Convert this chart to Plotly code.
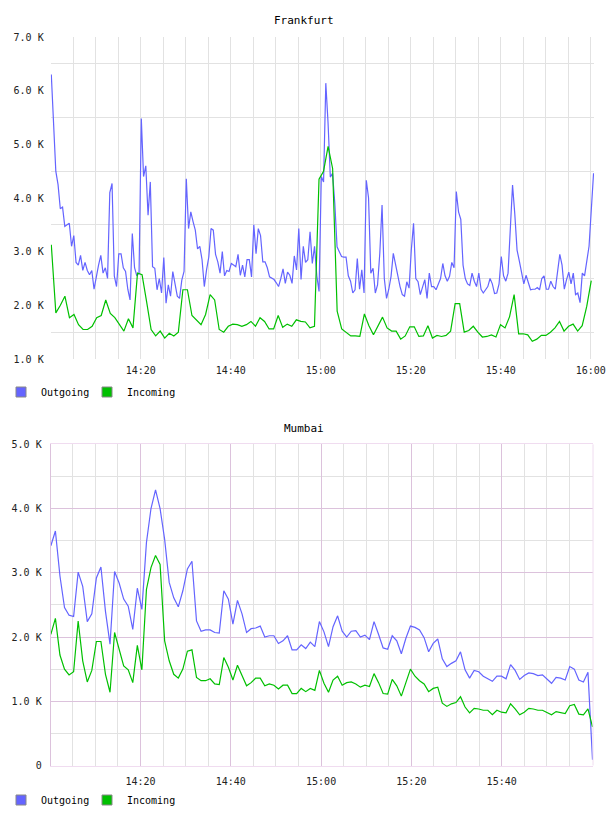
import plotly.graph_objects as go
import pandas as pd

DAY = "2024-01-01 "

# ---------------- data (values in thousands) ----------------
fra_out_start = "14:00:08"
fra_out_step_s = 30
fra_outgoing_k = [
    6.3, 5.5, 4.5, 4.25, 3.8, 3.83, 3.47, 3.5, 3.53, 3.1,
    3.3, 2.8, 2.75, 2.93, 2.65, 2.8, 2.65, 2.57, 2.65, 2.3,
    2.55, 2.75, 2.93, 2.6, 2.7, 2.5, 4.1, 4.27, 2.55, 2.35,
    2.96, 2.96, 2.7, 2.63, 2.3, 2.1, 3.34, 2.7, 2.55, 2.6,
    5.48, 4.4, 4.6, 3.68, 4.3, 2.72, 2.69, 2.29, 2.5, 2.23,
    2.89, 2.04, 2.38, 2.17, 2.63, 2.4, 2.17, 2.13, 2.47, 2.63,
    4.36, 3.43, 3.74, 3.56, 3.4, 3.05, 3.1, 2.85, 2.35, 2.66,
    2.9, 3.43, 3.4, 2.95, 2.81, 2.6, 3.0, 2.55, 2.65, 2.63,
    2.78, 2.75, 2.72, 2.95, 2.56, 2.75, 2.53, 2.85, 2.85, 2.53,
    3.5, 2.96, 3.43, 3.3, 2.81, 2.81, 2.7, 2.53, 2.5, 2.48,
    2.42, 2.35, 2.5, 2.68, 2.41, 2.62, 2.56, 2.41, 2.92, 2.66,
    3.43, 2.48, 3.1, 2.8, 2.85, 3.37, 2.78, 3.1, 2.55, 2.26,
    4.4, 4.3, 6.14, 5.4, 4.39, 4.46, 3.9, 3.09, 3.0, 2.91,
    2.9, 2.9, 2.55, 2.45, 2.23, 2.29, 2.87, 2.3, 2.66, 2.23,
    4.33, 4.0, 2.6, 2.69, 2.23, 2.38, 2.97, 3.87, 2.5, 2.13,
    2.3, 2.54, 2.97, 2.75, 2.54, 2.35, 2.2, 2.17, 2.44, 2.32,
    3.03, 3.53, 2.5, 2.44, 2.2, 2.35, 2.48, 2.13, 2.6, 2.35,
    2.35, 2.29, 2.38, 2.5, 2.78, 2.55, 2.45, 2.54, 2.8, 2.7,
    4.12, 3.74, 3.6, 2.75, 2.5, 2.4, 2.37, 2.6, 2.45, 2.35,
    2.6, 2.3, 2.23, 2.3, 2.35, 2.5, 2.4, 2.22, 2.23, 2.4,
    2.91, 2.55, 2.45, 2.6, 3.34, 4.24, 3.7, 3.03, 2.83, 2.58,
    2.4, 2.56, 2.4, 2.29, 2.3, 2.3, 2.33, 2.29, 2.5, 2.55,
    2.3, 2.3, 2.45, 2.35, 2.3, 2.62, 2.95, 2.75, 2.3, 2.48,
    2.62, 2.4, 2.6, 2.2, 2.23, 2.05, 2.6, 2.55, 2.85, 3.1,
    3.78, 4.46,
]

fra_in_start = "14:00:08"
fra_in_step_s = 60.5
fra_incoming_k = [
    3.13, 1.86, 2.0, 2.17, 1.77, 1.83, 1.64, 1.55, 1.55, 1.61,
    1.77, 1.81, 2.1, 1.85, 1.77, 1.64, 1.52, 1.75, 1.58, 2.6,
    2.57, 2.07, 1.55, 1.43, 1.52, 1.39, 1.48, 1.43, 1.5, 2.29,
    2.29, 1.81, 1.73, 1.64, 1.83, 2.2, 2.1, 1.55, 1.5, 1.61,
    1.65, 1.64, 1.61, 1.64, 1.7, 1.61, 1.77, 1.7, 1.56, 1.56,
    1.81, 1.59, 1.65, 1.61, 1.73, 1.7, 1.69, 1.58, 1.61, 4.35,
    4.5, 4.96, 4.55, 1.89, 1.56, 1.5, 1.43, 1.43, 1.42, 1.84,
    1.62, 1.45, 1.62, 1.78, 1.58, 1.52, 1.52, 1.37, 1.43, 1.6,
    1.6, 1.42, 1.43, 1.62, 1.39, 1.44, 1.42, 1.44, 1.52, 2.03,
    2.03, 1.5, 1.53, 1.61, 1.5, 1.41, 1.42, 1.45, 1.41, 1.64,
    1.58, 1.79, 2.2, 1.47, 1.47, 1.45, 1.33, 1.37, 1.44, 1.44,
    1.5, 1.58, 1.7, 1.52, 1.61, 1.65, 1.52, 1.62, 1.98, 2.46,
]

mum_start = "14:00:08"
mum_step_s = 60.5
mum_outgoing_k = [
    3.42, 3.65, 2.95, 2.46, 2.34, 2.32, 3.01, 2.79, 2.24, 2.36,
    2.92, 3.09, 2.4, 1.89, 3.02, 2.84, 2.59, 2.48, 2.12, 2.76,
    2.43, 3.47, 4.0, 4.29, 4.0, 3.52, 2.85, 2.61, 2.47, 2.72,
    3.06, 3.18, 2.25, 2.09, 2.11, 2.11, 2.07, 2.06, 2.72, 2.59,
    2.2, 2.57, 2.36, 2.07, 2.13, 2.14, 2.17, 2.0, 2.02, 2.02,
    1.9, 1.94, 2.02, 1.8, 1.8, 1.88, 1.82, 1.92, 1.85, 2.24,
    2.08, 1.85, 2.16, 2.33, 2.09, 2.0, 2.09, 2.1, 2.0, 2.03,
    1.96, 2.24, 2.04, 1.83, 1.81, 2.02, 1.94, 1.74, 1.98, 2.17,
    2.15, 2.11, 1.99, 1.77, 1.9, 1.97, 1.66, 1.54, 1.59, 1.63,
    1.77, 1.49, 1.36, 1.48, 1.46, 1.39, 1.35, 1.31, 1.39, 1.39,
    1.35, 1.57, 1.48, 1.34, 1.4, 1.44, 1.43, 1.4, 1.41, 1.34,
    1.28, 1.37, 1.36, 1.33, 1.54, 1.5, 1.33, 1.3, 1.45, 0.09,
]
mum_incoming_k = [
    2.04, 2.29, 1.72, 1.5, 1.41, 1.46, 2.25, 1.63, 1.3, 1.48,
    1.93, 1.93, 1.42, 1.14, 2.07, 1.79, 1.55, 1.49, 1.29, 1.87,
    1.49, 2.74, 3.08, 3.27, 3.13, 1.94, 1.63, 1.42, 1.36, 1.5,
    1.78, 1.8, 1.37, 1.32, 1.32, 1.35, 1.27, 1.26, 1.68, 1.53,
    1.33, 1.56, 1.39, 1.24, 1.29, 1.36, 1.36, 1.24, 1.27, 1.25,
    1.19, 1.25, 1.25, 1.12, 1.12, 1.2, 1.15, 1.2, 1.17, 1.48,
    1.28, 1.14, 1.33, 1.39, 1.25, 1.29, 1.3, 1.27, 1.22, 1.25,
    1.23, 1.43, 1.29, 1.12, 1.11, 1.34, 1.24, 1.08, 1.29, 1.5,
    1.39, 1.32, 1.27, 1.15, 1.2, 1.22, 0.97, 0.92, 0.96, 0.98,
    1.07, 0.91, 0.82, 0.89, 0.88, 0.86, 0.86, 0.79, 0.86, 0.83,
    0.82, 0.96, 0.88, 0.79, 0.83, 0.89, 0.88, 0.86, 0.86, 0.83,
    0.79, 0.84, 0.83, 0.81, 0.93, 0.95, 0.8, 0.79, 0.88, 0.6,
]

series_names = ["Outgoing", "Incoming"]
fra_time_ticks = ["14:20", "14:40", "15:00", "15:20", "15:40", "16:00"]
mum_time_ticks = ["14:20", "14:40", "15:00", "15:20", "15:40"]
fra_y_ticks = [1, 2, 3, 4, 5, 6, 7]
mum_y_ticks = [0, 1, 2, 3, 4, 5]

# ---------------- styling ----------------
W, H = 608, 816
BLUE = "#6464ff"
GREEN = "#00c000"
GRID = "#e2e2e2"
MAJOR = "#dcc2dc"
BORDER = "#f0dcf0"
TICKFONT = dict(family="DejaVu Sans Mono", size=10, color="#222")
MONO = "DejaVu Sans Mono"


def times(start, n, step_s):
    return pd.date_range(DAY + start, periods=n, freq=pd.Timedelta(seconds=step_s))


def px_x(p):
    return p / W


def px_y(p):
    return (H - p) / H


def ylabel(v):
    return "0" if v == 0 else f"{v:.1f} K"


minor_times = [DAY + f"{h}:{m:02d}" for h in (14, 15) for m in range(5, 60, 5)]

fig = go.Figure()

fig.add_trace(go.Scatter(x=times(fra_out_start, len(fra_outgoing_k), fra_out_step_s),
                         y=fra_outgoing_k, mode="lines", line=dict(color=BLUE, width=1.2),
                         showlegend=False, xaxis="x", yaxis="y"))
fig.add_trace(go.Scatter(x=times(fra_in_start, len(fra_incoming_k), fra_in_step_s),
                         y=fra_incoming_k, mode="lines", line=dict(color=GREEN, width=1.2),
                         showlegend=False, xaxis="x", yaxis="y"))
fig.add_trace(go.Scatter(x=times(mum_start, len(mum_outgoing_k), mum_step_s),
                         y=mum_outgoing_k, mode="lines", line=dict(color=BLUE, width=1.2),
                         showlegend=False, xaxis="x2", yaxis="y2"))
fig.add_trace(go.Scatter(x=times(mum_start, len(mum_incoming_k), mum_step_s),
                         y=mum_incoming_k, mode="lines", line=dict(color=GREEN, width=1.2),
                         showlegend=False, xaxis="x2", yaxis="y2"))

# legend entries (square swatches); one legend box per entry for exact spacing
legend_ids = [("legend", "legend3"), ("legend2", "legend4")]
for (leg_out, leg_in), xa, ya in zip(legend_ids, ("x", "x2"), ("y", "y2")):
    for name, col, leg in zip(series_names, (BLUE, GREEN), (leg_out, leg_in)):
        fig.add_trace(go.Scatter(x=[None], y=[None], mode="markers", name=name,
                                 marker=dict(symbol="square", size=10, color=col,
                                             line=dict(color="#888888", width=1)),
                                 legend=leg, xaxis=xa, yaxis=ya))

legend_style = dict(orientation="h", xanchor="left", yanchor="middle",
                    font=dict(family=MONO, size=10, color="#000"), bgcolor="rgba(0,0,0,0)",
                    itemwidth=30)

fig.update_layout(
    width=W, height=H,
    margin=dict(l=0, r=0, t=0, b=0, pad=0, autoexpand=False),
    paper_bgcolor="white", plot_bgcolor="white",
    xaxis=dict(domain=[px_x(50.7), px_x(594)], anchor="y", type="date",
               range=[DAY + "14:00:00", DAY + "16:00:44"],
               tickmode="array", tickvals=[DAY + t for t in fra_time_ticks], ticktext=fra_time_ticks,
               showgrid=True, gridcolor=GRID, gridwidth=1,
               minor=dict(tickmode="array", tickvals=minor_times, showgrid=True, gridcolor=GRID),
               ticks="", showline=False, zeroline=False, tickfont=TICKFONT, ticklabelstandoff=4,
               automargin=False),
    yaxis=dict(domain=[px_y(359), px_y(37)], anchor="x", range=[1, 7],
               tickmode="array", tickvals=fra_y_ticks, ticktext=[ylabel(v) for v in fra_y_ticks],
               showgrid=False, zeroline=False,
               minor=dict(tickmode="array", tickvals=[v + 0.5 for v in fra_y_ticks[:-1]],
                          showgrid=True, gridcolor=GRID),
               ticks="", tickfont=TICKFONT, ticklabelstandoff=6, automargin=False),
    xaxis2=dict(domain=[px_x(50.7), px_x(593)], anchor="y2", type="date",
                range=[DAY + "14:00:06", DAY + "16:00:14"],
                tickmode="array", tickvals=[DAY + t for t in mum_time_ticks], ticktext=mum_time_ticks,
                showgrid=True, gridcolor=MAJOR, gridwidth=1,
                minor=dict(tickmode="array", tickvals=minor_times, showgrid=True, gridcolor=GRID),
                ticks="", showline=True, mirror=True, linecolor=BORDER, linewidth=1,
                zeroline=False, tickfont=TICKFONT, ticklabelstandoff=6, automargin=False),
    yaxis2=dict(domain=[px_y(765.5), px_y(444.3)], anchor="x2", range=[0, 5],
                tickmode="array", tickvals=mum_y_ticks, ticktext=[ylabel(v) for v in mum_y_ticks],
                showgrid=True, gridcolor=MAJOR, zeroline=False,
                minor=dict(tickmode="array", tickvals=[v + 0.5 for v in mum_y_ticks[:-1]],
                           showgrid=True, gridcolor=GRID),
                showline=True, linecolor=MAJOR, linewidth=1,
                ticks="", tickfont=TICKFONT, ticklabelstandoff=6, automargin=False),
    legend=dict(legend_style, x=px_x(1), y=px_y(392)),
    legend3=dict(legend_style, x=px_x(87), y=px_y(392)),
    legend2=dict(legend_style, x=px_x(1), y=px_y(800)),
    legend4=dict(legend_style, x=px_x(87), y=px_y(800)),
    annotations=[
        dict(text="Frankfurt", x=0.5, y=px_y(20), xref="paper", yref="paper",
             showarrow=False, xanchor="center", yanchor="middle",
             font=dict(family=MONO, size=11, color="#000")),
        dict(text="Mumbai", x=0.5, y=px_y(428), xref="paper", yref="paper",
             showarrow=False, xanchor="center", yanchor="middle",
             font=dict(family=MONO, size=11, color="#000")),
    ],
    shapes=[dict(type="line", xref="x2 domain", yref="y2 domain", x0=1, x1=1, y0=0, y1=1,
                 line=dict(color=BORDER, width=1), layer="above")],
    showlegend=True,
)

fig.write_html("out.html")
